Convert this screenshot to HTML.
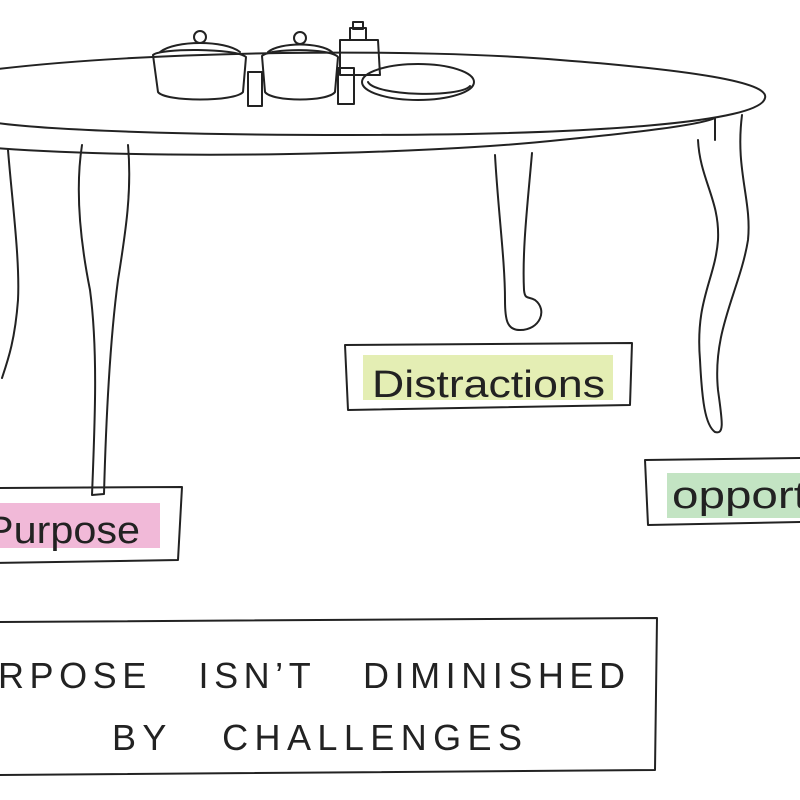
<!DOCTYPE html>
<html><head><meta charset="utf-8"><style>
html,body{margin:0;padding:0;background:#fff;width:800px;height:800px;overflow:hidden}
svg{display:block}
text{font-family:"Liberation Sans",sans-serif;fill:#222}
</style></head><body>
<svg width="800" height="800" viewBox="0 0 800 800" fill="none" stroke="#222" stroke-width="2" stroke-linecap="round" stroke-linejoin="round">
<rect x="363" y="355" width="250" height="45" fill="#e4eeb4" stroke="none"/>
<rect x="0" y="503" width="160" height="45" fill="#f1b9d8" stroke="none"/>
<rect x="667" y="473" width="133" height="45" fill="#c3e4c3" stroke="none"/>
<path d="M345 345 L632 343 L630 405 L348 410 Z"/>
<path d="M-5 488 L182 487 L178 560 L-5 563"/>
<path d="M645 460 L800 458 M645 460 L648 525 L800 522"/>
<path d="M-5 622 L657 618 L655 770 L-5 775"/>
<path d="M-10 70 C150 50 420 48 560 60 C690 70 770 82 765 98 C760 122 600 135 350 135 C180 135 40 130 -10 122"/>
<path d="M-5 148 C150 160 420 155 560 140 C640 132 700 125 715 118"/>
<path d="M715 118 L715 140"/>
<path d="M8 150 C12 200 20 260 18 300 C15 340 8 360 2 378"/>
<path d="M82 145 C75 190 80 240 90 290 C98 350 95 420 92 495 L104 494 C106 420 110 340 118 280 C126 230 132 190 128 145"/>
<path d="M495 155 C498 210 505 260 505 300 C505 320 507 330 520 330 C540 330 548 310 535 300 C528 296 525 300 524 290 C522 250 528 200 532 153"/>
<path d="M698 140 C700 180 720 200 718 240 C715 280 695 300 700 360 C702 400 705 425 715 432 C725 435 722 420 718 390 C712 330 740 290 748 240 C752 200 735 170 742 115"/>
<path d="M153 55 C160 48 235 48 246 57 L243 92 C235 102 165 102 158 92 Z"/>
<path d="M160 52 C175 40 225 40 240 52"/>
<circle cx="200" cy="37" r="6"/>
<path d="M262 56 C270 48 330 48 338 57 L335 92 C328 102 272 102 265 92 Z"/>
<path d="M268 52 C280 42 320 42 332 52"/>
<circle cx="300" cy="38" r="6"/>
<path d="M340 40 L378 40 L380 75 L340 75 Z"/>
<path d="M350 40 L350 28 L366 28 L366 40"/>
<rect x="353" y="22" width="10" height="7"/>
<path d="M248 72 L262 72 L262 106 L248 106 Z"/>
<path d="M338 68 L354 68 L354 104 L338 104 Z"/>
<ellipse cx="418" cy="82" rx="56" ry="18"/>
<path d="M368 82 C375 96 460 98 470 86"/>
<text x="372" y="397" font-size="38" stroke="none" textLength="233" lengthAdjust="spacingAndGlyphs">Distractions</text>
<text x="-14" y="543" font-size="38" stroke="none" textLength="154" lengthAdjust="spacingAndGlyphs">Purpose</text>
<text x="672" y="508" font-size="38" stroke="none" textLength="135" lengthAdjust="spacingAndGlyphs">opport</text>
<text x="-2" y="688" font-size="36" stroke="none" textLength="627" lengthAdjust="spacing">RPOSE&#160;&#160;&#160;ISN’T&#160;&#160;&#160;DIMINISHED</text>
<text x="112" y="750" font-size="36" stroke="none" textLength="410" lengthAdjust="spacing">BY&#160;&#160;&#160;CHALLENGES</text>
</svg>
</body></html>
